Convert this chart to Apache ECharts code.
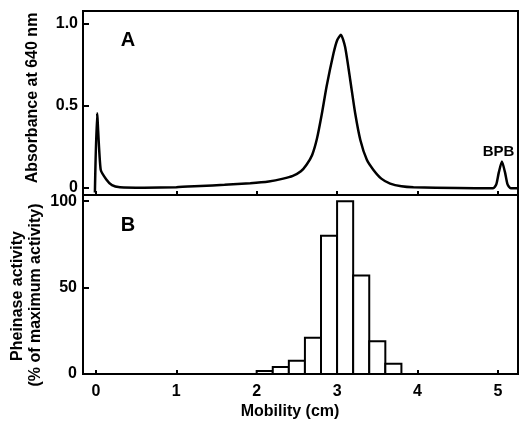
<!DOCTYPE html>
<html>
<head>
<meta charset="utf-8">
<script src="https://cdn.jsdelivr.net/npm/echarts@6/dist/echarts.min.js"></script>
<style>
html,body{margin:0;padding:0;background:#fff;}
#chart{width:519px;height:422px;}
</style>
</head>
<body>
<div id="chart"></div>
<script>
// Panel A: absorbance trace
var mobilityA = [-0.012, 0.015, 0.06, 0.13, 0.2, 0.3, 0.6, 1.0, 1.3, 1.6, 1.92, 2.15, 2.33, 2.45, 2.55, 2.62, 2.69, 2.75, 2.81, 2.87, 2.955, 3.0, 3.047, 3.10, 3.163, 3.225, 3.29, 3.37, 3.45, 3.55, 3.66, 3.8, 3.95, 4.5, 4.94, 4.98, 5.01, 5.05, 5.09, 5.12, 5.16, 5.25];
var absorbanceA = [-0.03, 0.455, 0.11, 0.05, 0.015, 0.003, 0, 0.003, 0.01, 0.017, 0.027, 0.038, 0.055, 0.072, 0.1, 0.14, 0.2, 0.3, 0.45, 0.62, 0.82, 0.9, 0.935, 0.86, 0.66, 0.455, 0.29, 0.17, 0.11, 0.055, 0.025, 0.008, 0.002, -0.002, -0.004, 0.02, 0.09, 0.16, 0.09, 0.02, -0.004, -0.004];
// Panel B: pheinase activity histogram
var binStart = [2.0, 2.2, 2.4, 2.6, 2.8, 3.0, 3.2, 3.4, 3.6];
var binEnd   = [2.2, 2.4, 2.6, 2.8, 3.0, 3.2, 3.4, 3.6, 3.8];
var activity = [1.8, 4, 7.7, 21, 80, 100, 57, 19, 6];
// Tick labels
var xTicks = [0, 1, 2, 3, 4, 5];
var yTicksA = [0, 0.5, 1.0];
var yTicksB = [0, 50, 100];

var FONT = 'Liberation Sans';
var lineData = mobilityA.map(function (x, i) { return [x, absorbanceA[i]]; });
var histData = binStart.map(function (s, i) { return [s, binEnd[i], activity[i]]; });

var axisLine = { show: true, onZero: false, lineStyle: { color: '#000', width: 2 } };
var labelStyle = { color: '#000', fontFamily: FONT, fontWeight: 'bold', fontSize: 16 };

var chart = echarts.init(document.getElementById('chart'), null, { renderer: 'canvas' });
chart.setOption({
  animation: false,
  backgroundColor: '#fff',
  grid: [
    { left: 83, right: 1, top: 11, height: 184, show: true, borderColor: '#000', borderWidth: 2, backgroundColor: 'transparent' },
    { left: 83, right: 1, top: 195, height: 179, show: true, borderColor: '#000', borderWidth: 2, backgroundColor: 'transparent' }
  ],
  xAxis: [
    { type: 'value', gridIndex: 0, min: -0.16, max: 5.25, axisLine: axisLine,
      axisTick: { show: true, inside: true, length: 4, lineStyle: { color: '#000', width: 2 }, customValues: xTicks },
      axisLabel: { show: false }, splitLine: { show: false } },
    { type: 'value', gridIndex: 1, min: -0.16, max: 5.25, axisLine: axisLine,
      axisTick: { show: true, inside: true, length: 4, lineStyle: { color: '#000', width: 2 }, customValues: xTicks },
      axisLabel: Object.assign({ margin: 10, customValues: xTicks, formatter: function (v) { return String(v); } }, labelStyle),
      splitLine: { show: false } }
  ],
  yAxis: [
    { type: 'value', gridIndex: 0, min: -0.045, max: 1.08, axisLine: axisLine,
      axisTick: { show: true, inside: true, length: 6, lineStyle: { color: '#000', width: 2 }, customValues: yTicksA },
      axisLabel: Object.assign({ margin: 5, customValues: yTicksA, formatter: function (v) { return v === 0 ? '0' : v.toFixed(1); } }, labelStyle),
      splitLine: { show: false } },
    { type: 'value', gridIndex: 1, min: 0, max: 103.6, axisLine: axisLine,
      axisTick: { show: true, inside: true, length: 6, lineStyle: { color: '#000', width: 2 }, customValues: yTicksB },
      axisLabel: Object.assign({ margin: 6, customValues: yTicksB, formatter: function (v) { return String(v); } }, labelStyle),
      splitLine: { show: false } }
  ],
  series: [
    { type: 'line', xAxisIndex: 0, yAxisIndex: 0, data: lineData, smooth: 0.2, symbol: 'none', clip: true,
      lineStyle: { color: '#000', width: 2.5 } },
    { type: 'custom', xAxisIndex: 1, yAxisIndex: 1, data: histData, clip: true,
      renderItem: function (params, api) {
        var p0 = api.coord([api.value(0), 0]);
        var p1 = api.coord([api.value(1), api.value(2)]);
        return { type: 'rect', shape: { x: p0[0], y: p1[1], width: p1[0] - p0[0], height: p0[1] - p1[1] },
                 style: { fill: '#fff', stroke: '#000', lineWidth: 2 } };
      } }
  ],
  graphic: [
    { type: 'text', x: 128, y: 40, style: { text: 'A', font: 'bold 20px ' + FONT, fill: '#000', textAlign: 'center', textVerticalAlign: 'middle' } },
    { type: 'text', x: 128, y: 225, style: { text: 'B', font: 'bold 20px ' + FONT, fill: '#000', textAlign: 'center', textVerticalAlign: 'middle' } },
    { type: 'text', x: 498.5, y: 152, style: { text: 'BPB', font: 'bold 15px ' + FONT, fill: '#000', textAlign: 'center', textVerticalAlign: 'middle' } },
    { type: 'text', x: 33, y: 98, rotation: Math.PI / 2, style: { text: 'Absorbance at 640 nm', font: 'bold 16px ' + FONT, fill: '#000', textAlign: 'center', textVerticalAlign: 'middle' } },
    { type: 'text', x: 18, y: 296, rotation: Math.PI / 2, style: { text: 'Pheinase activity', font: 'bold 16px ' + FONT, fill: '#000', textAlign: 'center', textVerticalAlign: 'middle' } },
    { type: 'text', x: 36, y: 295, rotation: Math.PI / 2, style: { text: '(% of maximum activity)', font: 'bold 16px ' + FONT, fill: '#000', textAlign: 'center', textVerticalAlign: 'middle' } },
    { type: 'text', x: 290, y: 412, style: { text: 'Mobility (cm)', font: 'bold 16px ' + FONT, fill: '#000', textAlign: 'center', textVerticalAlign: 'middle' } }
  ]
});
</script>
</body>
</html>
